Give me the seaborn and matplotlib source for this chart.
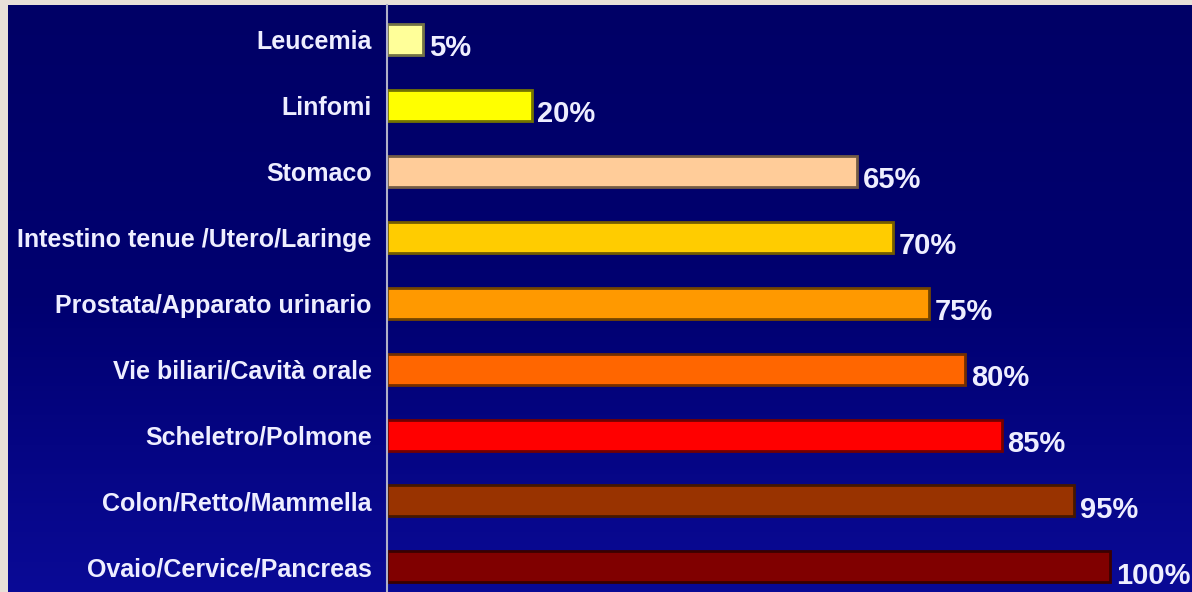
import numpy as np
import pandas as pd
import matplotlib
matplotlib.use("Agg")
import matplotlib.pyplot as plt
import seaborn as sns
from matplotlib import font_manager
from matplotlib.colors import LinearSegmentedColormap

categories = ["Leucemia", "Linfomi", "Stomaco", "Intestino tenue /Utero/Laringe",
              "Prostata/Apparato urinario", "Vie biliari/Cavità orale",
              "Scheletro/Polmone", "Colon/Retto/Mammella", "Ovaio/Cervice/Pancreas"]
values = [5, 20, 65, 70, 75, 80, 85, 95, 100]
value_labels = ["5%", "20%", "65%", "70%", "75%", "80%", "85%", "95%", "100%"]
bar_colors = ["#FFFF99", "#FFFF00", "#FFCC99", "#FFCC00", "#FF9900",
              "#FF6600", "#FF0000", "#993300", "#800000"]

sns.set_theme(style="white")
names = {f.name for f in font_manager.fontManager.ttflist}
fam = "Liberation Sans Narrow" if "Liberation Sans Narrow" in names else "Liberation Sans"
plt.rcParams["font.family"] = [fam, "DejaVu Sans"]

W, H = 1192, 592
fig = plt.figure(figsize=(W / 100, H / 100), dpi=100)
fig.patch.set_facecolor("#e8e0d8")

# background gradient panel (inside beige frame)
bg = fig.add_axes([8 / W, 0, 1 - 8 / W, 1 - 5 / H])
grad = np.linspace(0, 1, 256).reshape(-1, 1)
cmap = LinearSegmentedColormap.from_list("bg", ["#000066", "#000070", "#0a0a96"])
bg.imshow(grad, aspect="auto", cmap=cmap, extent=[0, 1, 1, 0])
bg.axis("off")

ax = fig.add_axes([387 / W, 0, (W - 387) / W, 1 - 5 / H])
ax.patch.set_alpha(0)
df = pd.DataFrame({"cat": categories, "val": values})
sns.barplot(data=df, y="cat", x="val", hue="cat", palette=bar_colors,
            legend=False, ax=ax, width=0.47, orient="h", saturation=1)
for p, c in zip(ax.patches, bar_colors):
    rgb = np.array(matplotlib.colors.to_rgb(c)) * 0.45
    p.set_edgecolor(rgb)
    p.set_linewidth(2.0)

ax.set_xlim(0, (W - 387) / 7.23)
ax.set_ylim(8.38, -0.52)
ax.set_xlabel("")
ax.set_ylabel("")
ax.set_xticks([])
ax.tick_params(axis="y", length=0, pad=11)
for t in ax.get_yticklabels():
    t.set_color("#eeeeff")
    t.set_fontsize(18)
    t.set_fontweight("bold")
for s in ["top", "right", "bottom"]:
    ax.spines[s].set_visible(False)
ax.spines["left"].set_color("#b0b0c8")
ax.spines["left"].set_linewidth(1.5)

for i, (v, lab) in enumerate(zip(values, value_labels)):
    ax.text(v + 0.8, i + 0.13, lab, color="#eeeeff", fontsize=21,
            fontweight="bold", va="center", ha="left")

fig.savefig("out.png", dpi=100, facecolor=fig.get_facecolor())
